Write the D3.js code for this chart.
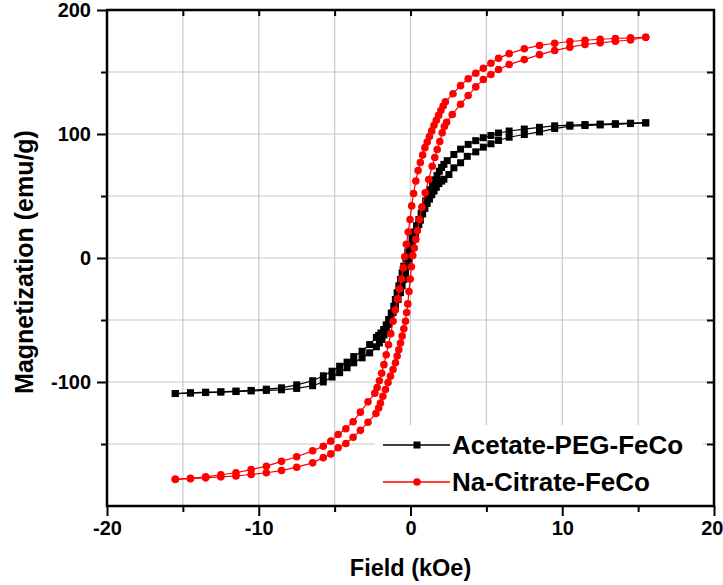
<!DOCTYPE html>
<html>
<head>
<meta charset="utf-8">
<script src="https://cdnjs.cloudflare.com/ajax/libs/d3/7.8.5/d3.min.js"></script>
<style>
  body { margin: 0; background: #fff; }
  text { font-family: "Liberation Sans", Arial, sans-serif; font-weight: bold; }
</style>
</head>
<body>
<svg id="chart"></svg>
<script>
// field (kOe), magnetization (emu/g)
const acetateDown = [
  [15.5,109],[14.5,108.7],[13.5,108.3],[12.5,108],[11.5,107.6],[10.5,107.2],[9.5,106.6],[8.5,105.4],
  [7.5,104],[6.5,102.4],[5.8,100.8],[5.3,98.8],[4.8,97],[4.3,94.6],[3.8,91.6],[3.3,87.8],[2.86,83.5],[2.42,78.5],
  [2.2,75.5],[2.05,73],[1.9,70],[1.75,66.5],[1.6,63],[1.45,59],[1.3,55],[1.15,50.5],[1.0,46],[0.85,41],
  [0.7,36],[0.55,31],[0.4,26],[0.25,21],[0.1,16],[-0.05,10.5],[-0.18,5],[-0.3,-0.5],[-0.44,-6.6],[-0.55,-12],
  [-0.66,-17.3],[-0.77,-22.5],[-0.88,-28],[-1.0,-33.5],[-1.1,-38.9],[-1.27,-44.5],[-1.44,-49.6],[-1.6,-54],
  [-1.77,-57.7],[-1.95,-60.5],[-2.1,-62.5],[-2.25,-64],
  [-2.69,-69.8],[-3.19,-75.2],[-3.74,-79.5],[-4.18,-84],[-4.67,-87.3],[-5.17,-91.3],[-5.74,-95],[-6.45,-99],
  [-7.5,-102.3],[-8.5,-104.7],[-9.5,-105.8],[-10.5,-106.8],[-11.5,-107.3],[-12.5,-107.9],[-13.5,-108.2],
  [-14.5,-108.7],[-15.5,-109.3]
];
const acetateUp = [
  [-15.5,-109.3],[-14.5,-108.9],[-13.5,-108.5],[-12.5,-108.1],[-11.5,-107.7],[-10.5,-107.2],[-9.5,-106.8],
  [-8.5,-106.3],[-7.5,-105.2],[-6.45,-103],[-5.75,-100],[-5.17,-96],[-4.67,-92.5],[-4.18,-88.5],[-3.74,-84.5],
  [-3.19,-80.5],[-2.69,-76.5],[-2.25,-71.6],
  [-2.05,-68.5],[-1.88,-65.7],[-1.74,-62],[-1.6,-57.7],[-1.46,-53.5],[-1.32,-49.6],[-1.15,-44],[-0.99,-38.9],
  [-0.82,-33.5],[-0.66,-28],[-0.55,-22.5],[-0.44,-17.3],[-0.33,-12],[-0.22,-6.6],[-0.1,-1],[0,4.2],[0.11,9.5],
  [0.22,15],[0.33,19],[0.44,23],[0.55,27],[0.65,30.5],[0.8,35.5],[0.95,40],[1.1,44],[1.25,47.5],[1.4,51],
  [1.55,54],[1.7,57],[1.87,60],[2.05,62],[2.2,63.5],
  [2.53,67.3],[2.86,72.7],[3.3,76.8],[3.74,82],[4.3,85.6],[4.8,89.4],[5.3,92.1],[5.8,94.8],[6.5,97.4],
  [7.5,99.6],[8.5,101.7],[9.5,104.4],[10.5,106.3],[11.5,106.8],[12.5,107.3],[13.5,107.8],[14.5,108.4],[15.5,109]
];
const citrateDown = [
  [15.5,178],[14.5,177.6],[13.5,177],[12.5,176.4],[11.5,175.6],[10.5,174.6],[9.5,173.2],[8.5,171.4],
  [7.5,168.7],[6.5,164.8],[5.8,161],[5.3,157],[4.8,153],[4.3,149],[3.8,144.5],[3.3,139],[2.8,132.5],[2.3,126],
  [2.15,122.5],[2.0,119],[1.85,115],[1.7,111],[1.55,107],[1.4,102.5],[1.25,98],[1.1,93.5],[0.95,89],[0.8,83],
  [0.65,77],[0.5,70.5],[0.35,62],[0.2,52],[0.08,42],[-0.03,31],[-0.15,21],[-0.27,11],[-0.38,1],[-0.48,-8],
  [-0.6,-17],[-0.72,-25],[-0.85,-33],[-1.0,-42],[-1.15,-51],[-1.3,-61],[-1.45,-70],[-1.6,-78],[-1.75,-86],
  [-1.9,-93],[-2.05,-99],[-2.2,-104.5],[-2.35,-109],
  [-2.8,-116],[-3.3,-124.3],[-3.78,-132],[-4.26,-137.7],[-4.77,-142.3],[-5.25,-147.7],[-5.75,-151.8],
  [-6.45,-155.5],[-7.5,-160.3],[-8.5,-164],[-9.5,-167.9],[-10.5,-170.6],[-11.5,-173.2],[-12.5,-174.8],
  [-13.5,-176.5],[-14.5,-177.6],[-15.5,-178.5]
];
const citrateUp = [
  [-15.5,-178.5],[-14.5,-178],[-13.5,-177.3],[-12.5,-176.5],[-11.5,-175.8],[-10.5,-174.6],[-9.5,-173.2],
  [-8.5,-171.4],[-7.5,-168.7],[-6.45,-165.2],[-5.75,-161],[-5.25,-158],[-4.77,-153],[-4.26,-149.6],
  [-3.78,-144.5],[-3.3,-139],[-2.8,-132.4],[-2.28,-125.4],
  [-2.1,-121],[-1.98,-117],[-1.82,-111.5],[-1.65,-106],[-1.48,-100.5],[-1.32,-95.3],[-1.15,-90],[-0.99,-84.5],
  [-0.88,-79],[-0.77,-74],[-0.66,-68.5],[-0.55,-63],[-0.44,-57],[-0.33,-51],[-0.25,-44],[-0.18,-37],[-0.1,-27],
  [-0.02,-17],[0.06,-7],[0.15,2],[0.25,8],[0.35,15],[0.45,22],[0.6,31],[0.75,41],[0.97,52.6],[1.2,63.3],
  [1.43,74],[1.6,81],[1.76,87.5],[1.93,94],[2.09,101],[2.23,106],[2.38,109.5],
  [2.75,115.7],[3.3,124],[3.8,131],[4.3,138],[4.8,144],[5.3,148],[5.8,152],[6.5,156],[7.5,160],[8.5,164],
  [9.5,167.3],[10.5,170],[11.5,172.2],[12.5,173.5],[13.5,174.8],[14.5,175.8],[15.5,178]
];

const xTicks = [-20, -10, 0, 10, 20];
const yTicks = [-100, 0, 100, 200];
const seriesNames = ["Acetate-PEG-FeCo", "Na-Citrate-FeCo"];

const margin = { top: 10, right: 9, bottom: 79, left: 107 },
      width = 723 - margin.left - margin.right,
      height = 585 - margin.top - margin.bottom;

const svg = d3.select("#chart")
              .attr("width", 723)
              .attr("height", 585);

const g = svg.append("g")
             .attr("transform", `translate(${margin.left},${margin.top})`);

const x = d3.scaleLinear().domain([-20, 20]).range([0, width]);
const y = d3.scaleLinear().domain([-200, 200]).range([height, 0]);

// grid
const gridX = d3.range(-15, 20, 5);
const gridY = d3.range(-150, 200, 50);
g.selectAll(".gx").data(gridX).enter().append("line")
 .attr("x1", d => x(d)).attr("x2", d => x(d))
 .attr("y1", 0).attr("y2", height)
 .attr("stroke", "#c8c8c8").attr("stroke-width", 1.2);
g.selectAll(".gy").data(gridY).enter().append("line")
 .attr("x1", 0).attr("x2", width)
 .attr("y1", d => y(d)).attr("y2", d => y(d))
 .attr("stroke", "#c8c8c8").attr("stroke-width", 1.2);

// legend background covers grid
g.append("rect")
 .attr("x", 268).attr("y", 415)
 .attr("width", 328).attr("height", height - 415)
 .attr("fill", "#fff");

// axes
const fmt = d => d;
const xAxisGroup = g.append("g").attr("transform", `translate(0,${height})`)
  .call(d3.axisBottom(x).tickValues(xTicks).tickFormat(fmt).tickSize(10).tickPadding(5));
g.append("g").attr("transform", `translate(0,${height})`)
  .call(d3.axisBottom(x).tickValues(gridX.filter(d => d % 10 !== 0)).tickFormat("").tickSize(6));
g.append("g")
  .call(d3.axisLeft(y).tickValues(yTicks).tickFormat(fmt).tickSize(10).tickPadding(6));
g.append("g")
  .call(d3.axisLeft(y).tickValues(gridY.filter(d => d % 100 !== 0)).tickFormat("").tickSize(6));
g.append("g")
  .call(d3.axisTop(x).tickValues(gridX).tickFormat("").tickSize(-6));
g.append("g").attr("transform", `translate(${width},0)`)
  .call(d3.axisRight(y).tickValues(gridY).tickFormat("").tickSize(-7));

g.selectAll(".domain").remove();
g.selectAll(".tick line").attr("stroke", "#000").attr("stroke-width", 2);
g.selectAll(".tick text").style("font-size", "20px").attr("fill", "#000");
// last label sits against the page edge
xAxisGroup.selectAll(".tick text").filter(d => d === 20)
  .attr("text-anchor", "end").attr("x", 9);

g.append("rect")
 .attr("width", width).attr("height", height)
 .attr("fill", "none").attr("stroke", "#000").attr("stroke-width", 2.5);

// curves
const line = d3.line().x(d => x(d[0])).y(d => y(d[1]));

function drawSquares(data, color) {
  g.append("g").selectAll("rect").data(data).enter().append("rect")
   .attr("x", d => x(d[0]) - 3.5).attr("y", d => y(d[1]) - 3.5)
   .attr("width", 7).attr("height", 7).attr("fill", color);
}
function drawCircles(data, color) {
  g.append("g").selectAll("circle").data(data).enter().append("circle")
   .attr("cx", d => x(d[0])).attr("cy", d => y(d[1]))
   .attr("r", 3.8).attr("fill", color);
}

[acetateDown, acetateUp].forEach(b => {
  g.append("path").datum(b).attr("d", line)
   .attr("fill", "none").attr("stroke", "#000").attr("stroke-width", 1.2);
});
[acetateDown, acetateUp].forEach(b => drawSquares(b, "#000"));

[citrateDown, citrateUp].forEach(b => {
  g.append("path").datum(b).attr("d", line)
   .attr("fill", "none").attr("stroke", "#ff0000").attr("stroke-width", 1.2);
});
[citrateDown, citrateUp].forEach(b => drawCircles(b, "#ff0000"));

// legend
const legend = g.append("g").attr("transform", "translate(276,435)");
const colors = ["#000", "#ff0000"];
seriesNames.forEach((name, i) => {
  const row = legend.append("g").attr("transform", `translate(0,${i * 37})`);
  row.append("line").attr("x1", 0).attr("x2", 67).attr("y1", 0).attr("y2", 0)
     .attr("stroke", colors[i]).attr("stroke-width", 1.5);
  if (i === 0) {
    row.append("rect").attr("x", 30.5).attr("y", -3.5).attr("width", 7).attr("height", 7).attr("fill", colors[i]);
  } else {
    row.append("circle").attr("cx", 34).attr("cy", 0).attr("r", 3.8).attr("fill", colors[i]);
  }
  row.append("text").attr("x", 69).attr("y", 9)
     .style("font-size", "26px").attr("fill", "#000").text(name);
});

// axis titles
svg.append("text")
   .attr("x", margin.left + width / 2).attr("y", 576)
   .attr("text-anchor", "middle").style("font-size", "23.5px")
   .text("Field (kOe)");
svg.append("text")
   .attr("transform", `translate(33,${margin.top + height / 2 + 4}) rotate(-90)`)
   .attr("text-anchor", "middle").style("font-size", "25px")
   .text("Magnetization (emu/g)");
</script>
</body>
</html>
